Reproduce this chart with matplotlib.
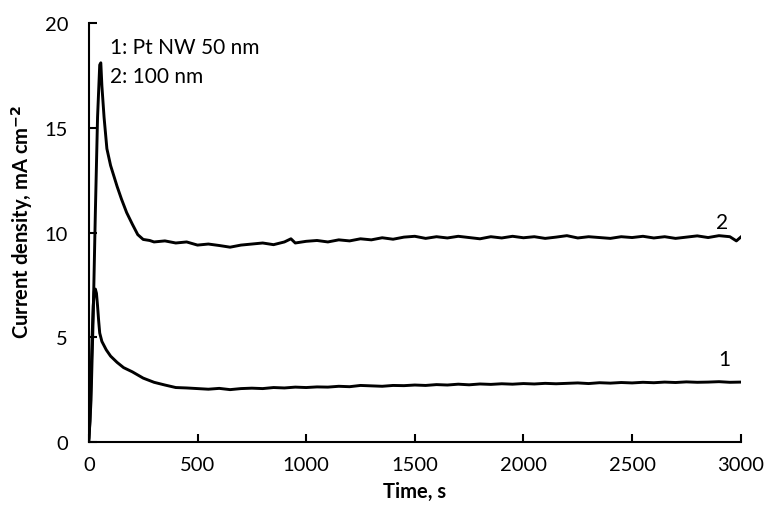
import numpy as np
import matplotlib.pyplot as plt

plt.rcParams['font.family'] = ['Lato', 'DejaVu Sans']

# curve 1: Pt NW 50 nm
t1 = [0, 5, 10, 15, 20, 25, 30, 35, 40, 45, 50, 60, 80, 100, 130, 160, 200, 250, 300, 350, 400,
      450, 500, 550, 600, 650, 700, 750, 800, 850, 900, 950, 1000, 1050, 1100, 1150, 1200, 1250,
      1300, 1350, 1400, 1450, 1500, 1550, 1600, 1650, 1700, 1750, 1800, 1850, 1900, 1950, 2000,
      2050, 2100, 2150, 2200, 2250, 2300, 2350, 2400, 2450, 2500, 2550, 2600, 2650, 2700, 2750,
      2800, 2850, 2900, 2950, 3000]
j1 = [0.2, 1.0, 3.0, 5.0, 6.5, 7.2, 7.3, 7.1, 6.5, 5.8, 5.2, 4.8, 4.4, 4.1, 3.8, 3.55, 3.35, 3.05,
      2.85, 2.72, 2.6, 2.58, 2.55, 2.52, 2.56, 2.5, 2.55, 2.57, 2.55, 2.6, 2.58, 2.62, 2.6, 2.63,
      2.62, 2.66, 2.64, 2.7, 2.68, 2.66, 2.7, 2.69, 2.72, 2.7, 2.74, 2.72, 2.76, 2.73, 2.77, 2.75,
      2.78, 2.76, 2.79, 2.77, 2.8, 2.78, 2.8, 2.82, 2.79, 2.83, 2.81, 2.84, 2.82, 2.85, 2.83, 2.86,
      2.84, 2.87, 2.85, 2.86, 2.88, 2.85, 2.86]

# curve 2: 100 nm
t2 = [0, 10, 20, 30, 40, 50, 55, 60, 70, 83, 100, 130, 150, 174, 200, 225, 250, 280,
      300, 350, 400, 450, 500, 550, 600, 650, 700, 750, 800, 850, 900, 930, 950, 1000, 1050, 1100,
      1150, 1200, 1250, 1300, 1350, 1400, 1450, 1500, 1550, 1600, 1650, 1700, 1750, 1800, 1850,
      1900, 1950, 2000, 2050, 2100, 2150, 2200, 2250, 2300, 2350, 2400, 2450, 2500, 2550, 2600,
      2650, 2700, 2750, 2800, 2850, 2900, 2950, 2980, 3000]
j2 = [0.0, 2.0, 6.0, 11.0, 15.5, 18.0, 18.1, 17.0, 15.5, 14.0, 13.2, 12.2, 11.6, 10.95,
      10.4, 9.9, 9.67, 9.62, 9.55, 9.6, 9.5, 9.55, 9.4, 9.45, 9.38, 9.3, 9.4, 9.45, 9.5,
      9.42, 9.55, 9.7, 9.5, 9.58, 9.62, 9.55, 9.65, 9.6, 9.7, 9.65, 9.75, 9.68, 9.78, 9.82, 9.72,
      9.8, 9.74, 9.82, 9.76, 9.7, 9.8, 9.74, 9.82, 9.75, 9.8, 9.72, 9.78, 9.85, 9.74, 9.8, 9.76,
      9.72, 9.8, 9.76, 9.82, 9.74, 9.8, 9.72, 9.78, 9.84, 9.76, 9.85, 9.8, 9.6, 9.78]

fig = plt.figure(figsize = [7.66 , 5.06] , dpi = 100)
ax = fig.add_axes([0.116 , 0.1245 , 0.851 , 0.828])
ax.plot(t1 , j1 , color = 'black' , lw = 2.1)
ax.plot(t2 , j2 , color = 'black' , lw = 2.1)

ax.set_xlim(0 , 3000)
ax.set_ylim(0 , 20)
ax.set_xticks(np.arange(0 , 3001 , 500))
ax.set_yticks(np.arange(0 , 21 , 5))
ax.spines['top'].set_visible(False)
ax.spines['right'].set_visible(False)
ax.spines['left'].set_linewidth(1.5)
ax.spines['bottom'].set_linewidth(1.5)
ax.tick_params(direction = 'in' , length = 6 , width = 1.5 , labelsize = 14.5)
ax.tick_params(axis = 'x' , pad = 10)
ax.tick_params(axis = 'y' , pad = 15)
ax.set_xlabel('Time, s' , fontsize = 14.5 , fontweight = 'bold' , labelpad = 6)
ax.set_ylabel('Current density, mA cm$^{\\mathbf{-2}}$' , fontsize = 14.5 , fontweight = 'bold')
ax.yaxis.set_label_coords(-0.083 , 0.527)

ax.text(96 , 18.85 , '1: Pt NW 50 nm' , fontsize = 15 , va = 'center')
ax.text(96 , 17.45 , '2: 100 nm' , fontsize = 15 , va = 'center')
ax.text(2915 , 10.5 , '2' , fontsize = 15 , va = 'center' , ha = 'center')
ax.text(2925 , 3.95 , '1' , fontsize = 15 , va = 'center' , ha = 'center')

fig.savefig('out.png' , dpi = 100)
